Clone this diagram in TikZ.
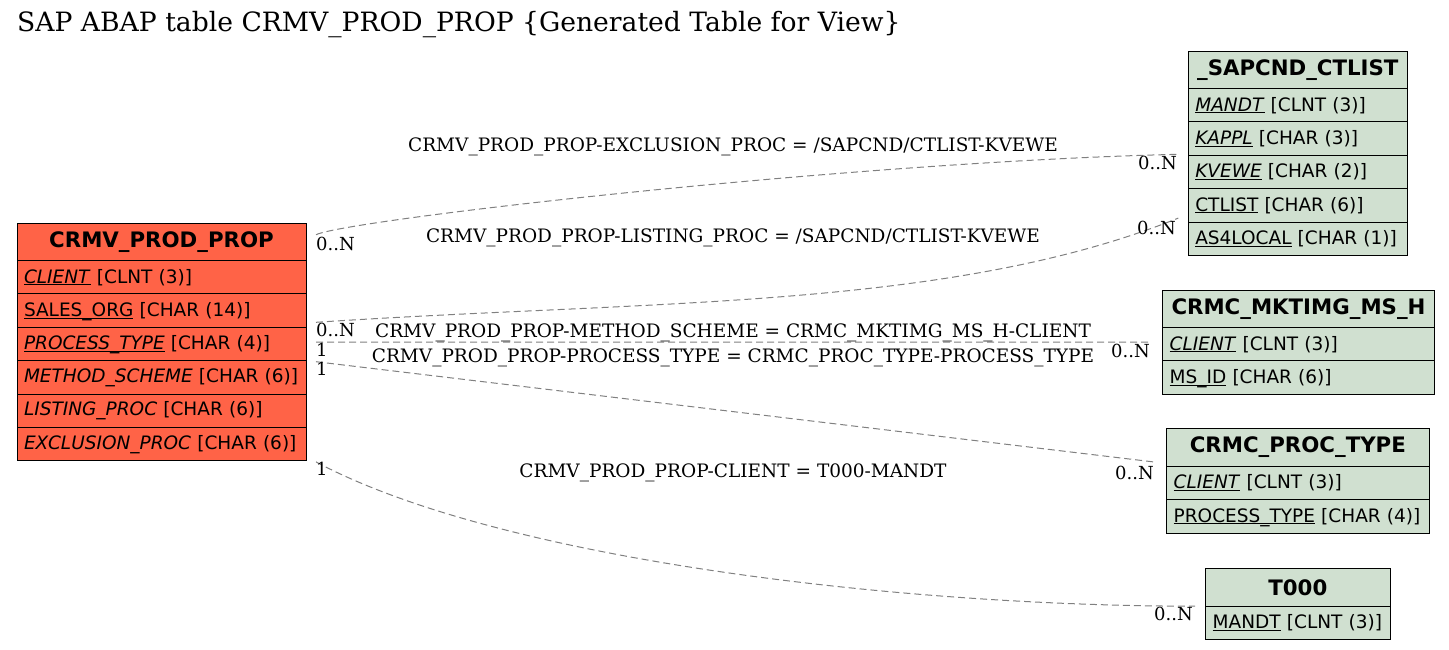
\documentclass[tikz,border=0pt]{standalone}
\usepackage{fontspec}
\setmainfont{DejaVu Serif}
\newfontfamily\tblfont{DejaVu Sans}
\usepackage{tikz}
\usetikzlibrary{positioning}
\definecolor{ppred}{RGB}{255,99,71}
\definecolor{tblgreen}{RGB}{208,224,208}
\definecolor{relgray}{RGB}{128,128,128}
\newcommand{\ukey}[1]{\underline{\smash{#1}}}
\newcommand{\fld}[2]{\mbox{#1 [#2]}}
\tikzstyle{cell}=[rectangle, draw=black, line width=1pt, outer sep=0pt, inner xsep=7pt, inner ysep=1pt, align=left, font=\tblfont\fontsize{18.5}{22}\selectfont]
\tikzstyle{head}=[cell, align=center, minimum height=37.5pt, font=\tblfont\bfseries\fontsize{21.3}{24}\selectfont]
\tikzstyle{field}=[cell, minimum height=33.4pt]
\tikzstyle{pp}=[fill=ppred, text width=275pt]
\tikzstyle{ctl}=[fill=tblgreen, text width=205pt]
\tikzstyle{mk}=[fill=tblgreen, text width=257.6pt]
\tikzstyle{pt}=[fill=tblgreen, text width=248.3pt]
\tikzstyle{tz}=[fill=tblgreen, text width=170.3pt]
\tikzstyle{rel}=[draw=relgray, line width=1pt, dash pattern=on 7pt off 4pt]
\tikzstyle{rellabel}=[anchor=base, inner sep=0pt, font=\fontsize{18.5}{21}\selectfont]
\tikzstyle{card}=[inner sep=0pt, font=\fontsize{18}{21}\selectfont]

\begin{document}
\begin{tikzpicture}[x=1pt, y=-1pt]
				\useasboundingbox (0,0) rectangle (1449,649);
				\node[anchor=base west, inner sep=0pt, font=\fontsize{26.6}{30}\selectfont] (title) at (17,31) {SAP ABAP table CRMV\_PROD\_PROP \{Generated Table for View\}};

				% CRMV_PROD_PROP
				\node[head, pp, anchor=north west] (pp) at (17,223) {CRMV\_PROD\_PROP};
				\node[field, pp] (pp-client) [below=0pt of pp] {\fld{\ukey{\textit{CLIENT}}}{CLNT (3)}};
				\node[field, pp] (pp-sales) [below=0pt of pp-client] {\fld{\ukey{SALES\_ORG}}{CHAR (14)}};
				\node[field, pp] (pp-ptype) [below=0pt of pp-sales] {\fld{\ukey{\textit{PROCESS\_TYPE}}}{CHAR (4)}};
				\node[field, pp] (pp-method) [below=0pt of pp-ptype] {\fld{\textit{METHOD\_SCHEME}}{CHAR (6)}};
				\node[field, pp] (pp-listing) [below=0pt of pp-method] {\fld{\textit{LISTING\_PROC}}{CHAR (6)}};
				\node[field, pp] (pp-excl) [below=0pt of pp-listing] {\fld{\textit{EXCLUSION\_PROC}}{CHAR (6)}};

				% _SAPCND_CTLIST
				\node[head, ctl, anchor=north west] (ctl) at (1188.3,51) {\_SAPCND\_CTLIST};
				\node[field, ctl] (ctl-mandt) [below=0pt of ctl] {\fld{\ukey{\textit{MANDT}}}{CLNT (3)}};
				\node[field, ctl] (ctl-kappl) [below=0pt of ctl-mandt] {\fld{\ukey{\textit{KAPPL}}}{CHAR (3)}};
				\node[field, ctl] (ctl-kvewe) [below=0pt of ctl-kappl] {\fld{\ukey{\textit{KVEWE}}}{CHAR (2)}};
				\node[field, ctl] (ctl-ctlist) [below=0pt of ctl-kvewe] {\fld{\ukey{CTLIST}}{CHAR (6)}};
				\node[field, ctl] (ctl-local) [below=0pt of ctl-ctlist] {\fld{\ukey{AS4LOCAL}}{CHAR (1)}};

				% CRMC_MKTIMG_MS_H
				\node[head, mk, anchor=north west] (mk) at (1162.7,290) {CRMC\_MKTIMG\_MS\_H};
				\node[field, mk] (mk-client) [below=0pt of mk] {\fld{\ukey{\textit{CLIENT}}}{CLNT (3)}};
				\node[field, mk] (mk-msid) [below=0pt of mk-client] {\fld{\ukey{MS\_ID}}{CHAR (6)}};

				% CRMC_PROC_TYPE
				\node[head, pt, anchor=north west] (pt) at (1166.7,428.7) {CRMC\_PROC\_TYPE};
				\node[field, pt] (pt-client) [below=0pt of pt] {\fld{\ukey{\textit{CLIENT}}}{CLNT (3)}};
				\node[field, pt] (pt-ptype) [below=0pt of pt-client] {\fld{\ukey{PROCESS\_TYPE}}{CHAR (4)}};

				% T000
				\node[head, tz, anchor=north west] (tz) at (1205.7,568.7) {T000};
				\node[field, tz] (tz-mandt) [below=0pt of tz] {\fld{\ukey{MANDT}}{CLNT (3)}};

				% relations
				\draw[rel] ([shift={(10pt,7pt)}]pp.east) .. controls (345,220) and (850,162) .. ([shift={(-10pt,1pt)}]ctl-kappl.south west);
				\draw[rel] ([shift={(10pt,5pt)}]pp-sales.south east) .. controls (650,300) and (950,310) .. ([shift={(-10pt,4pt)}]ctl-ctlist.south west);
				\draw[rel] ([shift={(10pt,2pt)}]pp-ptype.east) -- ([shift={(-11pt,2pt)}]mk-client.west);
				\draw[rel] ([shift={(10pt,-1pt)}]pp-ptype.south east) -- ([shift={(-10.7pt,4pt)}]pt.south west);
				\draw[rel] ([shift={(10pt,-1pt)}]pp-excl.south east) .. controls (500,560) and (900,606) .. ([shift={(-10.7pt,0pt)}]tz.south west);

				\node[rellabel] (l-excl) at (733,151) {CRMV\_PROD\_PROP-EXCLUSION\_PROC = /SAPCND/CTLIST-KVEWE};
				\node[rellabel] (l-listing) at (733,242.7) {CRMV\_PROD\_PROP-LISTING\_PROC = /SAPCND/CTLIST-KVEWE};
				\node[rellabel] (l-method) at (733,337.3) {CRMV\_PROD\_PROP-METHOD\_SCHEME = CRMC\_MKTIMG\_MS\_H-CLIENT};
				\node[rellabel] (l-ptype) at (733,362) {CRMV\_PROD\_PROP-PROCESS\_TYPE = CRMC\_PROC\_TYPE-PROCESS\_TYPE};
				\node[rellabel] (l-client) at (733,477.7) {CRMV\_PROD\_PROP-CLIENT = T000-MANDT};

				\node[card, anchor=base west] (c-excl-s) at (316,250.7) {0..N};
				\node[card, anchor=base east] (c-excl-e) at (1177,169.3) {0..N};
				\node[card, anchor=base west] (c-listing-s) at (316,336.7) {0..N};
				\node[card, anchor=base east] (c-listing-e) at (1176,234) {0..N};
				\node[card, anchor=base west] (c-method-s) at (316,356.7) {1};
				\node[card, anchor=base east] (c-method-e) at (1150,357) {0..N};
				\node[card, anchor=base west] (c-ptype-s) at (316,375.7) {1};
				\node[card, anchor=base east] (c-ptype-e) at (1154,479.3) {0..N};
				\node[card, anchor=base west] (c-client-s) at (316,475) {1};
				\node[card, anchor=base east] (c-client-e) at (1193,620.7) {0..N};
\end{tikzpicture}
\end{document}
